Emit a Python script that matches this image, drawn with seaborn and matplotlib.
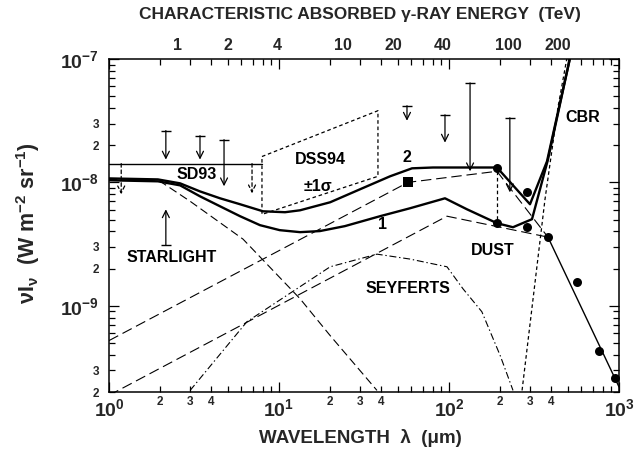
import numpy as np
import matplotlib
matplotlib.use("Agg")
import matplotlib.pyplot as plt
from matplotlib.ticker import FixedLocator, FuncFormatter, NullLocator
import seaborn as sns

# ---------------------------------------------------------------------------
# Extragalactic background spectrum: wavelength (um) vs nu*I_nu (W m^-2 sr^-1)
# ---------------------------------------------------------------------------

# Total background, model 2 (upper heavy curve)
model2_wl = [1.0, 1.94, 2.62, 3.43, 4.5, 5.9, 8.05, 10.85, 13.3, 20, 29.9, 45.0,
             60.6, 80.5, 191.5, 299.5, 377, 515]
model2_flux = [1.077e-8, 1.057e-8, 9.82e-9, 8.45e-9, 7.43e-9, 6.65e-9, 5.83e-9, 5.73e-9,
               5.94e-9, 6.9e-9, 8.78e-9, 1.12e-8, 1.30e-8, 1.32e-8, 1.32e-8, 6.65e-9,
               1.48e-8, 1.02e-7]

# Total background, model 1 (lower heavy curve)
model1_wl = [1.0, 1.94, 2.62, 3.43, 4.5, 5.9, 7.73, 10.1, 13.3, 17.4, 24.4, 39.3, 59,
             94.7, 127.6, 191.5, 237.8, 307.7, 382, 515]
model1_flux = [1.04e-8, 1.02e-8, 9.46e-9, 7.71e-9, 6.4e-9, 5.32e-9, 4.5e-9, 4.1e-9,
               3.95e-9, 4.03e-9, 4.42e-9, 5.32e-9, 6.17e-9, 7.43e-9, 6.05e-9, 4.67e-9,
               4.33e-9, 5.03e-9, 1.53e-8, 1.02e-7]

# Stellar component
starlight_wl = [1.0, 2.0, 3.0, 6.14, 13.3, 20, 37.7]
starlight_flux = [1.057e-8, 1.02e-8, 7.03e-9, 3.47e-9, 1.14e-9, 5.73e-10, 2.06e-10]

# Seyfert galaxy component
seyfert_wl = [3.0, 6.48, 20, 37.7, 59, 97.3, 121, 156, 200, 238]
seyfert_flux = [2.06e-10, 7.43e-10, 2.07e-9, 2.62e-9, 2.39e-9, 2.07e-9, 1.37e-9,
                8.95e-10, 3.95e-10, 2.06e-10]

# Dust emission components (two cases) and common sub-mm tail
dust2_wl = [1.0, 57.4, 191.5, 382]
dust2_flux = [5.22e-10, 1.0e-8, 1.23e-8, 3.6e-9]
dust1_wl = [1.0, 97.3, 382]
dust1_flux = [1.88e-10, 5.32e-9, 3.6e-9]
dust_tail_wl = [382, 1000]
dust_tail_flux = [3.6e-9, 2.2e-10]

# Cosmic background radiation (rising Wien side)
cbr_wl = [269, 367, 438, 494]
cbr_flux = [2.06e-10, 7.29e-9, 4.1e-8, 1.02e-7]

# Far-IR / sub-mm detections
fir_wl = [191.5, 191.5, 288, 288, 382, 566, 762, 947]
fir_flux = [1.32e-8, 4.67e-9, 8.3e-9, 4.33e-9, 3.6e-9, 1.56e-9, 4.26e-10, 2.62e-10]
fir_range_wl = [191.5, 191.5]
fir_range_flux = [1.23e-8, 4.67e-9]

# 60 um point
iras_wl = [57.4]
iras_flux = [1.0e-8]

# SD93 limit and DSS94 +-1 sigma band
sd93_wl = [1.0, 7.94]
sd93_flux = [1.42e-8, 1.42e-8]
dss94_wl = [7.94, 38.2, 38.2, 7.94, 7.94]
dss94_flux = [1.62e-8, 3.81e-8, 1.12e-8, 5.5e-9, 1.62e-8]

# Upper limits (solid): wavelength, bar level, arrow tip
ul_wl = [2.16, 3.43, 4.75, 56.6, 94.7, 133, 228]
ul_top = [2.63e-8, 2.39e-8, 2.22e-8, 4.18e-8, 3.53e-8, 6.4e-8, 3.34e-8]
ul_tip = [1.53e-8, 1.53e-8, 9.3e-9, 3.16e-8, 2.1e-8, 1.23e-8, 8.3e-9]

# Upper limits (dashed) hanging from the SD93 line
dul_wl = [1.18, 6.94]
dul_top = [1.42e-8, 1.42e-8]
dul_tip = [8.0e-9, 8.15e-9]

# Lower limit from integrated starlight
ll_wl = [2.16]
ll_bottom = [3.1e-9]
ll_tip = [6.05e-9]

# Top-axis energy labels (TeV)
energy_ticks = [1, 2, 4, 10, 20, 40, 100, 200]

# ---------------------------------------------------------------------------
sns.set_style("ticks")
plt.rcParams.update({
    "font.family": ["Liberation Sans", "DejaVu Sans"],
    "font.weight": "bold",
    "axes.labelweight": "bold",
    "mathtext.fontset": "custom",
    "mathtext.rm": "Liberation Sans:bold",
    "mathtext.it": "Liberation Sans:bold",
    "mathtext.bf": "Liberation Sans:bold",
    "mathtext.sf": "Liberation Sans:bold",
    "lines.scale_dashes": False,
    "axes.linewidth": 1.1,
    "axes.edgecolor": "black",
})

fig = plt.figure(figsize=(6.4, 4.51), dpi=100)
ax = fig.add_axes([0.1703, 0.1308, 0.7969, 0.7384])
ax.set_xscale("log")
ax.set_yscale("log")
ax.set_xlim(1, 1000)
ax.set_ylim(2e-10, 1e-7)

K = "black"


def trace(wl, flux, **kw):
    sns.lineplot(x=wl, y=flux, ax=ax, sort=False, estimator=None, color=K, **kw)


LONG = (0, (7.5, 3.5))
SHORT = (0, (2.6, 2.0))
DASHDOT = (0, (5, 2, 1, 2))

trace(model2_wl, model2_flux, lw=1.7)
trace(model1_wl, model1_flux, lw=1.7)
trace(starlight_wl, starlight_flux, lw=0.8, linestyle=(0, (6, 3)))
trace(seyfert_wl, seyfert_flux, lw=0.8, linestyle=DASHDOT)
trace(dust2_wl, dust2_flux, lw=0.8, linestyle=LONG)
trace(dust1_wl, dust1_flux, lw=0.8, linestyle=LONG)
trace(dust_tail_wl, dust_tail_flux, lw=1.0)
trace(cbr_wl, cbr_flux, lw=0.9, linestyle=SHORT)
trace(fir_range_wl, fir_range_flux, lw=0.9, linestyle=SHORT)
trace(sd93_wl, sd93_flux, lw=1.0)
trace(dss94_wl, dss94_flux, lw=0.9, linestyle=SHORT)

sns.scatterplot(x=fir_wl, y=fir_flux, ax=ax, color=K, s=42, marker="o",
                linewidth=0, zorder=5)
sns.scatterplot(x=iras_wl, y=iras_flux, ax=ax, color=K, s=42, marker="s",
                linewidth=0, zorder=5)

arrow_kw = dict(arrowstyle="->,head_length=0.5,head_width=0.25", color=K,
                lw=0.9, shrinkA=0, shrinkB=0)
for w, top, tip in zip(ul_wl, ul_top, ul_tip):
    ax.annotate("", xy=(w, tip), xytext=(w, top), arrowprops=arrow_kw)
ax.plot(ul_wl, ul_top, linestyle="none", marker="_", ms=7, mew=1.0, color=K)

dashed_kw = dict(arrow_kw, linestyle=SHORT)
for w, top, tip in zip(dul_wl, dul_top, dul_tip):
    ax.annotate("", xy=(w, tip), xytext=(w, top), arrowprops=dashed_kw)

for w, bot, tip in zip(ll_wl, ll_bottom, ll_tip):
    ax.annotate("", xy=(w, tip), xytext=(w, bot), arrowprops=arrow_kw)
ax.plot(ll_wl, ll_bottom, linestyle="none", marker="_", ms=7, mew=1.0, color=K)

# Labels inside the plot
lab = dict(fontsize=11.5, fontweight="bold", ha="center", va="center", color=K)
ax.text(3.29, 1.16e-8, "SD93", **lab)
ax.text(17.4, 1.53e-8, "DSS94", **lab)
ax.text(17.0, 9.29e-9, "±1σ", **lab)
ax.text(56.6, 1.59e-8, "2", **lab)
ax.text(40.4, 4.58e-9, "1", **lab)
ax.text(2.35, 2.44e-9, "STARLIGHT", **lab)
ax.text(57.4, 1.37e-9, "SEYFERTS", **lab)
ax.text(181.5, 2.78e-9, "DUST", **lab)
ax.text(614, 3.34e-8, "CBR", **lab)

# Bottom axis ticks
ax.xaxis.set_major_locator(FixedLocator([1, 10, 100, 1000]))
ax.xaxis.set_major_formatter(FuncFormatter(lambda v, p: r"$10^{%d}$" % round(np.log10(v))))
x_minor = [m * 10.0 ** d for d in range(0, 3) for m in range(2, 10)]
ax.xaxis.set_minor_locator(FixedLocator(x_minor))


def minor_lab(keep):
    def f(v, p):
        m = int(round(v / 10 ** np.floor(np.log10(v) + 1e-9)))
        return str(m) if m in keep else ""
    return FuncFormatter(f)


ax.xaxis.set_minor_formatter(minor_lab((2, 3, 4)))

# Left axis ticks
ax.yaxis.set_major_locator(FixedLocator([1e-9, 1e-8, 1e-7]))
ax.yaxis.set_major_formatter(FuncFormatter(lambda v, p: r"$10^{%d}$" % round(np.log10(v))))
y_minor = [m * 10.0 ** d for d in (-10, -9, -8) for m in range(2, 10)]
ax.yaxis.set_minor_locator(FixedLocator(y_minor))
ax.yaxis.set_minor_formatter(minor_lab((2, 3)))

ax.tick_params(which="both", direction="in", top=True, right=True, color=K, width=0.9)
ax.tick_params(which="major", length=7, labelsize=14)
ax.tick_params(which="minor", length=4.5, labelsize=8.5)
ax.tick_params(axis="x", which="major", pad=4.5)
ax.tick_params(axis="x", which="minor", pad=3)
ax.tick_params(axis="y", which="both", pad=7)


# Top axis: characteristic absorbed gamma-ray energy
def lam_to_energy(lam):
    lam = np.clip(np.asarray(lam, dtype=float), 1e-6, None)
    return 0.384 * lam ** 1.028


def energy_to_lam(en):
    en = np.clip(np.asarray(en, dtype=float), 1e-6, None)
    return (en / 0.384) ** (1 / 1.028)


sec = ax.secondary_xaxis("top", functions=(lam_to_energy, energy_to_lam))
sec.xaxis.set_major_locator(FixedLocator(energy_ticks))
sec.xaxis.set_major_formatter(FuncFormatter(lambda v, p: "%g" % v))
sec.xaxis.set_minor_locator(NullLocator())
sec.tick_params(which="both", length=0, labelsize=11.5, pad=4)
sec.spines["top"].set_visible(False)

fig.text(0.5625, 0.967, "CHARACTERISTIC ABSORBED γ-RAY ENERGY  (TeV)",
         ha="center", va="center", fontsize=12.5, fontweight="bold")
fig.text(0.5625, 0.029, "WAVELENGTH  λ  (μm)", ha="center", va="center",
         fontsize=13.5, fontweight="bold")
fig.text(0.044, 0.505, r"νI$_{ν}$  (W m$^{-2}$ sr$^{-1}$)", ha="center", va="center",
         rotation=90, fontsize=15.5, fontweight="bold")

fig.savefig("out.png", dpi=100)
